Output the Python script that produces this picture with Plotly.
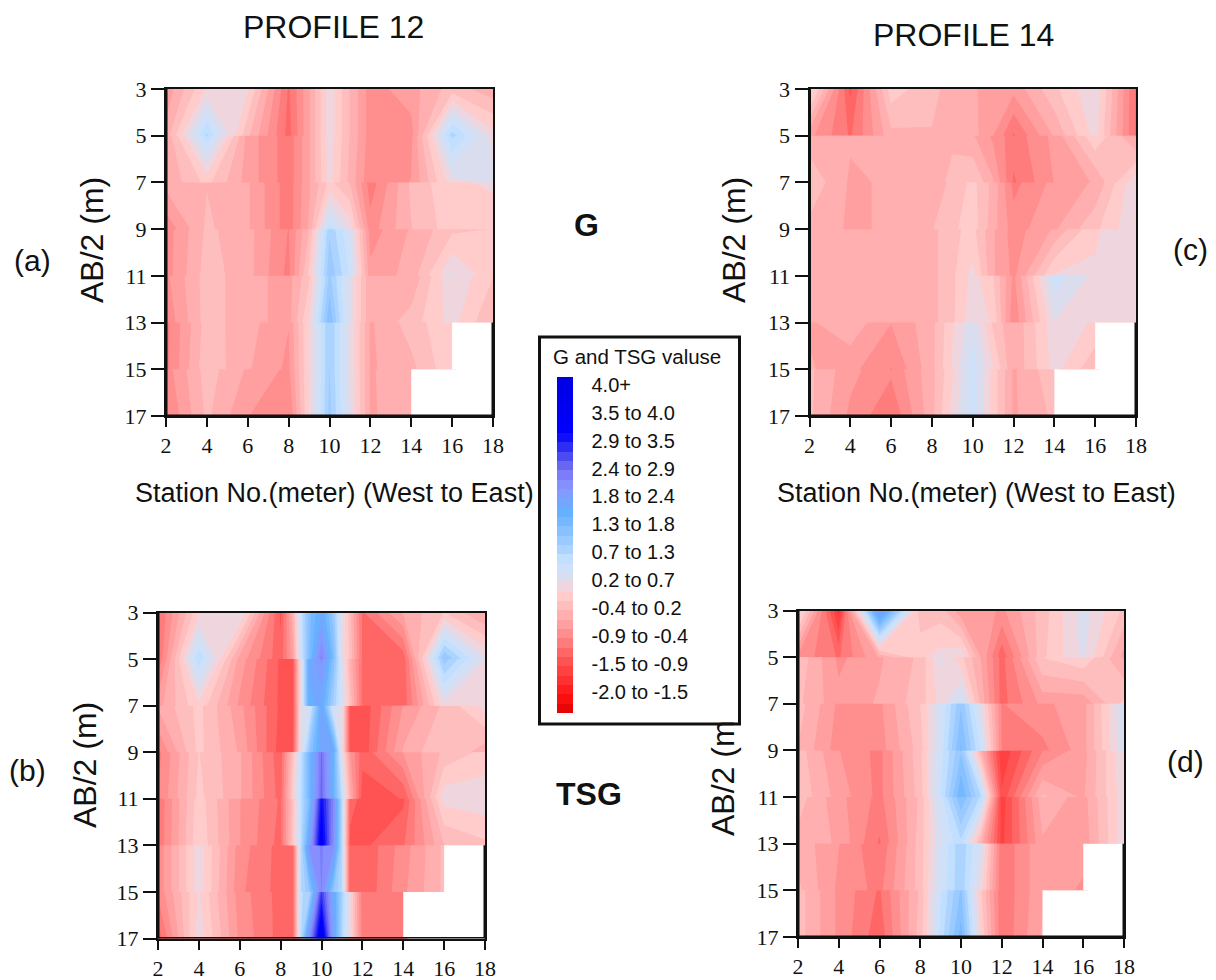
import plotly.graph_objects as go

N = None
stations = [2, 4, 6, 8, 9, 10, 11, 12, 14, 16, 18]
stations_b = [2, 4, 6, 8, 8.6, 9, 9.4, 10, 10.6, 11, 11.4, 12, 14, 16, 18]
depth_ticks = [3, 5, 7, 9, 11, 13, 15, 17]
x_ticks = [2, 4, 6, 8, 10, 12, 14, 16, 18]
# every depth band keeps its own top and bottom row, as in the reference
band_rows = [3, 5, 5.001, 7, 7.001, 9, 9.001, 11, 11.001, 13, 13.001, 15, 15.001, 17]

g_p12 = [
    [-0.45, 0.25, 0.25, -0.9, -0.35, 0.35, -0.15, -0.6, -0.4, -0.05, -0.25],
    [-0.25, 1.0, -0.1, -0.95, -0.35, 0.35, -0.15, -0.6, -0.6, 1.05, 0.3],
    [-0.3, 0.9, -0.4, -0.8, -0.35, 0.35, -0.15, -0.6, -0.55, 1.0, 0.35],
    [-0.3, 0.1, -0.4, -0.8, -0.35, 0.3, -0.2, -0.65, -0.5, 0.35, 0.45],
    [-0.25, -0.15, -0.3, -0.8, -0.35, 0.1, -0.15, -0.8, -0.1, 0.2, 0.25],
    [-0.65, -0.1, -0.3, -0.8, -0.3, 0.85, 0.35, -0.6, -0.15, 0.15, 0.15],
    [-0.6, -0.1, -0.25, -0.7, -0.15, 1.1, 0.6, -0.6, -0.3, 0.0, 0.05],
    [-0.6, -0.05, -0.25, -0.75, 0.1, 1.3, 0.75, -0.45, -0.25, 0.45, 0.1],
    [-0.55, -0.05, -0.25, -0.4, 0.0, 1.2, 0.45, -0.3, -0.3, 0.4, 0.05],
    [-0.65, -0.05, -0.25, -0.4, 0.25, 1.5, 0.45, -0.3, -0.05, 0.3, -0.15],
    [-0.75, -0.05, -0.25, -0.5, 0.25, 1.15, 0.4, -0.35, -0.05, 0.2, N],
    [-0.75, 0.0, -0.3, -0.55, 0.25, 1.15, 0.4, -0.35, -0.2, 0.2, N],
    [-0.6, -0.05, -0.35, -0.55, 0.25, 1.15, 0.4, -0.35, -0.15, N, N],
    [-0.7, -0.1, -0.5, -0.7, 0.25, 1.2, 0.45, -0.35, -0.2, N, N],
]
g_p14 = [
    [0.4, -1.1, 0.15, -0.1, -0.2, -0.3, -0.4, -0.45, 0.0, 0.4, -0.9],
    [-0.45, -0.9, -0.2, -0.15, -0.25, -0.25, -0.5, -0.9, -0.3, 0.3, -0.9],
    [-0.25, -0.3, -0.25, -0.2, -0.2, -0.3, -0.55, -0.8, -0.45, 0.2, -0.35],
    [0.0, -0.35, -0.3, -0.3, -0.05, 0.05, -0.3, -0.9, -0.5, -0.3, 0.35],
    [0.0, -0.35, -0.3, -0.25, -0.1, 0.1, -0.2, -0.75, -0.45, -0.3, 0.4],
    [-0.2, -0.35, -0.3, -0.15, 0.0, 0.15, -0.25, -0.6, -0.35, 0.0, 0.4],
    [-0.25, -0.3, -0.3, -0.2, 0.0, 0.1, -0.3, -0.6, -0.3, 0.2, 0.4],
    [-0.25, -0.25, -0.3, -0.2, 0.0, 0.3, -0.3, -0.55, 0.25, 0.25, 0.4],
    [-0.25, -0.2, -0.3, -0.2, 0.0, 0.3, 0.05, -0.55, 0.7, 0.35, 0.4],
    [-0.3, -0.2, -0.3, -0.2, 0.0, 0.35, 0.2, -0.65, 0.4, 0.35, 0.4],
    [-0.35, -0.2, -0.5, -0.2, 0.2, 0.55, 0.0, -0.3, 0.35, 0.2, N],
    [-0.3, -0.45, -0.7, -0.2, 0.25, 0.7, 0.25, -0.3, 0.3, -0.1, N],
    [-0.1, -0.45, -0.65, -0.2, 0.2, 0.7, 0.15, -0.35, 0.0, N, N],
    [-0.1, -0.55, -0.85, -0.2, 0.3, 0.7, 0.15, -0.35, -0.1, N, N],
]
tsg_p12 = [
    [-0.9, 0.2, 0.45, -1.1, -0.2, 0.8, 1.45, 1.9, 1.2, 0.45, -0.1, -0.9, -0.3, 0.05, -0.35],
    [-0.9, 0.95, -0.4, -1.0, -0.4, 0.75, 1.5, 2.5, 1.5, 0.4, 0.0, -0.9, -1.0, 1.35, 0.45],
    [-0.85, 0.9, -0.4, -1.1, -1.1, 0.4, 1.9, 2.3, 1.4, 0.6, -0.2, -0.9, -1.0, 1.25, 0.4],
    [-0.4, 0.2, -0.55, -1.1, -1.1, 0.4, 1.85, 1.9, 1.1, 0.6, 0.0, -0.9, -1.0, 0.35, 0.4],
    [-0.3, 0.1, -0.45, -1.1, -1.15, 0.45, 0.6, 1.95, 0.5, 0.45, -1.15, -1.2, -0.5, -0.1, 0.3],
    [-0.7, 0.1, -0.35, -1.15, -1.1, 0.45, 1.3, 2.0, 1.9, 0.45, -1.1, -1.2, -0.3, 0.05, -0.25],
    [-0.75, 0.05, -0.3, -1.0, 0.0, 0.85, 1.6, 2.65, 1.7, 0.45, -0.5, -1.0, -0.5, -0.1, 0.1],
    [-0.7, 0.1, -0.3, -0.95, 0.15, 0.9, 1.6, 2.7, 1.7, 0.9, -0.2, -1.15, -1.05, 0.35, 0.35],
    [-0.85, 0.15, -0.5, -0.9, 0.0, 0.9, 1.5, 3.3, 2.4, 0.95, -1.0, -1.1, -1.1, 0.3, 0.35],
    [-0.85, 0.2, -0.5, -0.95, 0.05, 0.9, 2.0, 3.6, 2.3, 0.95, -1.1, -1.1, -0.9, -0.15, 0.0],
    [-0.65, 0.35, -0.6, -0.95, -0.95, 0.95, 2.3, 2.45, 2.3, 0.95, -1.05, -1.05, -0.6, -0.1, N],
    [-0.65, 0.35, -0.65, -0.95, -0.95, 0.95, 1.3, 2.45, 1.3, 0.95, -1.05, -1.05, -0.55, -0.1, N],
    [-0.65, 0.25, -0.6, -0.95, -0.95, 0.95, 1.0, 3.0, 1.9, 1.1, 0.3, -0.8, -0.7, N, N],
    [-1.0, 0.35, -0.55, -0.95, -0.95, 0.95, 2.3, 3.8, 2.0, 1.0, 0.3, -0.75, -0.7, N, N],
]
tsg_p14 = [
    [0.45, -1.5, 2.3, -0.1, -0.05, -0.45, -0.4, -0.55, -0.05, 0.5, 0.0],
    [-0.55, -0.9, -0.3, 0.2, 0.3, 0.4, -0.35, -1.0, 0.0, 0.45, -0.4],
    [0.0, -0.55, -0.35, -0.1, 0.45, 0.1, -0.35, -0.95, 0.05, 0.2, -0.35],
    [-0.1, -0.45, -0.3, -0.05, 0.3, 0.7, -0.2, -0.95, -0.45, -0.45, 0.1],
    [-0.05, -0.55, -0.55, 0.05, 0.6, 1.3, 0.4, -0.7, -0.55, -0.4, 0.6],
    [-0.15, -0.6, -0.6, -0.05, 0.65, 1.55, 0.75, -0.7, -0.75, -0.4, 0.55],
    [-0.05, -0.5, -0.75, 0.0, 0.7, 1.3, -0.25, -1.4, -0.7, -0.4, 0.4],
    [0.0, -0.4, -0.75, -0.05, 0.75, 1.7, 0.95, -1.2, -0.1, -0.35, 0.35],
    [-0.05, -0.45, -0.75, -0.1, 0.7, 1.5, 0.9, -1.35, -0.2, -0.4, 0.35],
    [-0.2, -0.35, -0.9, -0.05, 0.55, 0.9, -0.25, -1.3, -0.35, -0.45, 0.35],
    [-0.2, -0.5, -0.85, -0.05, 0.6, 1.1, 0.55, -0.85, -0.35, -0.4, N],
    [-0.1, -0.55, -0.75, -0.05, 0.65, 1.1, 0.3, -0.85, -0.35, -0.55, N],
    [-0.05, -0.55, -0.9, -0.1, 0.75, 1.35, 0.05, -0.85, -0.35, N, N],
    [-0.05, -0.55, -1.0, -0.05, 0.85, 1.6, 0.2, -0.85, -0.3, N, N],
]

legend_values = [4.3, 3.75, 3.2, 2.65, 2.1, 1.55, 1.0, 0.45, -0.1, -0.65, -1.2, -1.75]
legend_labels = ["4.0+", "3.5 to 4.0", "2.9 to 3.5", "2.4 to 2.9", "1.8 to 2.4", "1.3 to 1.8",
                 "0.7 to 1.3", "0.2 to 0.7", "-0.4 to 0.2", "-0.9 to -0.4", "-1.5 to -0.9", "-2.0 to -1.5"]

Z_MIN, Z_MAX = -2.16, 4.45
stops = [(-2.16, "#dd0000"), (-1.85, "#ff1010"), (-1.18, "#ff5050"), (-0.67, "#ff8888"), (-0.13, "#ffb8b8"),
         (0.2, "#ffd0d0"), (0.46, "#dcdcec"), (0.8, "#c8e4ff"), (1.1, "#a8d0ff"), (1.78, "#64b0ff"),
         (2.1, "#80a0ff"), (2.43, "#8888ff"), (2.76, "#6060f0"), (3.15, "#2020f8"), (3.35, "#0000ff"), (4.45, "#0000e0")]
colorscale = [[(v - Z_MIN) / (Z_MAX - Z_MIN), c] for v, c in stops]
LEGEND_STEP = (Z_MAX - Z_MIN) / 36

W, H = 1216, 980
panels = [
    dict(x=stations, z=g_p12, box=(166, 493, 89, 416), ax=("x", "y")),
    dict(x=stations, z=g_p14, box=(809.5, 1136, 89, 416), ax=("x2", "y2")),
    dict(x=stations_b, z=tsg_p12, box=(158, 485, 612.5, 938.5), ax=("x3", "y3")),
    dict(x=stations, z=tsg_p14, box=(798, 1124, 610.5, 937), ax=("x4", "y4")),
]

fig = go.Figure()
shapes = []
INK = "#111111"
for p in panels:
    fig.add_trace(go.Contour(
        x=p["x"], y=band_rows, z=p["z"], xaxis=p["ax"][0], yaxis=p["ax"][1],
        colorscale=colorscale, zmin=Z_MIN, zmax=Z_MAX, zauto=False,
        autocontour=False, connectgaps=False,
        contours=dict(start=Z_MIN, end=Z_MAX, size=LEGEND_STEP, coloring="fill", showlines=False),
        line=dict(width=0, smoothing=0), hoverinfo="skip", showscale=False,
    ))
    x0, x1, y0, y1 = p["box"]
    xname = "xaxis" + p["ax"][0][1:]
    yname = "yaxis" + p["ax"][1][1:]
    common = dict(showgrid=False, zeroline=False, ticks="outside", tickwidth=2, tickcolor=INK,
                  showline=True, linecolor=INK, linewidth=2, mirror=True, layer="above traces",
                  tickfont=dict(family="Liberation Serif", size=22, color=INK))
    fig.update_layout({
        xname: dict(common, domain=[x0 / W, x1 / W], range=[2, 18], tickmode="array", tickvals=x_ticks,
                    anchor=p["ax"][1], ticklen=9),
        yname: dict(common, domain=[1 - y1 / H, 1 - y0 / H], range=[17, 3], tickmode="array", tickvals=depth_ticks,
                    anchor=p["ax"][0], ticklen=13),
    })
    xr, yr = p["ax"]
    white = dict(type="rect", xref=xr, yref=yr, fillcolor="white", line=dict(width=0), layer="above")
    thick = dict(type="line", xref=xr, yref=yr, line=dict(color=INK, width=3), layer="above")
    shapes += [
        dict(white, x0=16, x1=18, y0=13, y1=15),
        dict(white, x0=14, x1=18, y0=15, y1=17),
        dict(thick, x0=18, x1=18, y0=13, y1=17),
        dict(thick, x0=2, x1=18, y0=17, y1=17),
        dict(thick, x0=2, x1=2, y0=3, y1=17),
    ]

# legend key: a trace parked outside the axis range so only its colour bar shows
fig.add_trace(go.Contour(
    x=[100, 101], y=[100, 101], z=[[Z_MIN, Z_MAX], [Z_MIN, Z_MAX]],
    colorscale=colorscale, zmin=Z_MIN, zmax=Z_MAX, zauto=False, autocontour=False,
    contours=dict(start=Z_MIN, end=Z_MAX, size=LEGEND_STEP, coloring="fill", showlines=False),
    line=dict(width=0), hoverinfo="skip", showscale=True,
    colorbar=dict(
        x=557 / W, xanchor="left", y=1 - 377 / H, yanchor="top", lenmode="pixels", len=336,
        thicknessmode="pixels", thickness=16, xpad=0, ypad=0, outlinewidth=0, borderwidth=0,
        tickmode="array", tickvals=legend_values, ticktext=legend_labels,
        ticks="outside", ticklen=15, tickcolor="rgba(255,255,255,0)", tickwidth=1,
        tickfont=dict(family="Liberation Sans", size=20, color=INK),
    ),
))

def text(s, x, y, size, angle=0, bold=False):
    return dict(text=f"<b>{s}</b>" if bold else s, x=x / W, y=1 - y / H, xref="paper", yref="paper",
                xanchor="center", yanchor="middle", showarrow=False, textangle=angle,
                font=dict(family="Liberation Sans", size=size, color=INK))

shapes.append(dict(type="rect", xref="paper", yref="paper", x0=539.5 / W, x1=739.5 / W, y0=1 - 724 / H, y1=1 - 337 / H,
                   line=dict(color=INK, width=3), fillcolor="white", layer="above"))

fig.update_layout(
    width=W, height=H, autosize=False, margin=dict(l=0, r=0, t=0, b=0, autoexpand=False),
    paper_bgcolor="white", plot_bgcolor="white", showlegend=False,
    annotations=[
        text("PROFILE 12", 333, 27, 32),
        text("PROFILE 14", 963, 35, 32),
        text("AB/2 (m)", 92, 240, 32, -90),
        text("AB/2 (m)", 734, 240, 32, -90),
        text("AB/2 (m)", 85, 765, 32, -90),
        text("AB/2 (m", 723, 778, 32, -90),
        text("Station No.(meter) (West to East)", 334, 493, 27),
        text("Station No.(meter) (West to East)", 976, 493, 27),
        text("G", 586, 225, 32, bold=True),
        text("TSG", 589, 794, 32, bold=True),
        text("(a)", 32, 260, 30),
        text("(b)", 27, 770, 30),
        text("(c)", 1190, 250, 30),
        text("(d)", 1185, 761, 30),
        text("G and TSG valuse", 637, 356, 20.5),
    ],
    shapes=shapes,
)

fig.write_html("out.html", config={"displayModeBar": False},
               post_script="document.body.style.margin='0';document.body.style.overflow='hidden';")
